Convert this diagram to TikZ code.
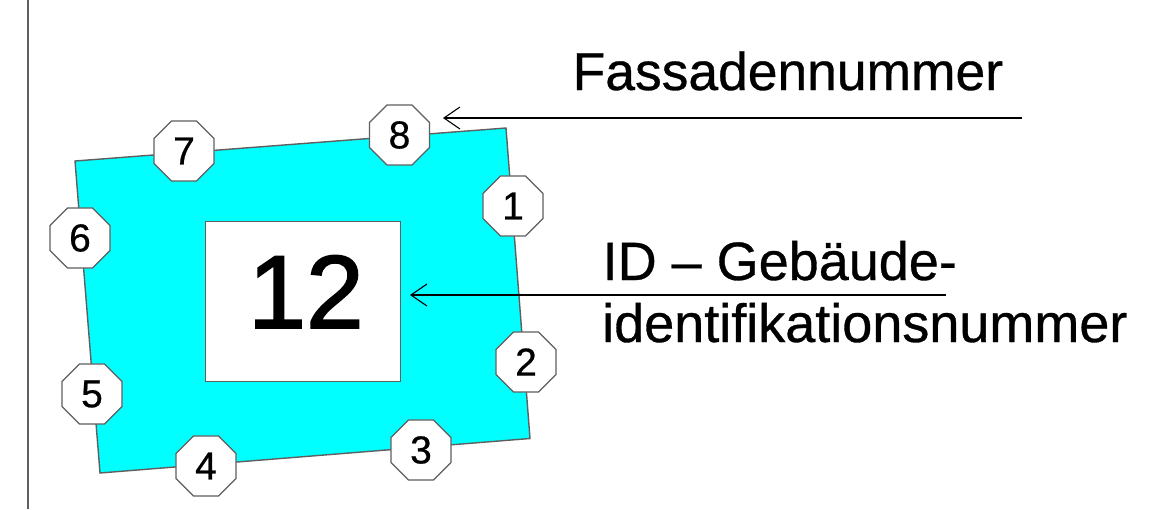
\documentclass[tikz,border=0pt]{standalone}
\usepackage{fontspec}
\setmainfont{Liberation Sans}
\newfontfamily\heavy[FakeBold=0.6]{Liberation Sans}
\newfontfamily\heavier[FakeBold=1.6]{Liberation Sans}
\usetikzlibrary{shapes.geometric,arrows.meta}
\definecolor{edgegrey}{RGB}{95,95,95}
\definecolor{aquafill}{RGB}{0,255,255}
\tikzset{
  facade/.style={regular polygon,regular polygon sides=8,minimum size=65pt,inner sep=0pt,
    draw=edgegrey,line width=1.3pt,fill=white,font=\heavy\fontsize{39}{39}\selectfont,text=black},
  idbox/.style={draw=edgegrey,line width=1pt,fill=white,minimum width=195pt,minimum height=160pt,inner sep=0pt},
  idnum/.style={anchor=base,inner sep=0pt,text=black,font=\heavier\fontsize{104}{104}\selectfont},
  labelA/.style={anchor=base west,inner sep=0pt,text=black,font=\heavy\fontsize{53.4}{53.4}\selectfont},
  labelB/.style={anchor=base west,inner sep=0pt,text=black,font=\heavy\fontsize{54}{54}\selectfont},
  pointer/.style={draw=black,line width=1.3pt,-{Straight Barb[length=16pt,width=22pt,line width=1.1pt]}}
}
\begin{document}
\begin{tikzpicture}[x=1pt,y=-1pt]
\useasboundingbox (0,0) rectangle (1170,509);
\fill[white] (0,0) rectangle (1170,509);
\draw[edgegrey,line width=1.3pt] (28,0) -- (28,509);
\draw[edgegrey,line width=1.4pt,fill=aquafill] (75,161) -- (506,128) -- (530,438.5) -- (100,473) -- cycle;
\node[idbox] (id) at (302.5,301) {};
\node[idnum] (idtext) at (306,328) {12};
\node[facade] (f1) at (513,206) {1};
\node[facade] (f2) at (526,362) {2};
\node[facade] (f3) at (421,450) {3};
\node[facade] (f4) at (206,466) {4};
\node[facade] (f5) at (92,394) {5};
\node[facade] (f6) at (80,238) {6};
\node[facade] (f7) at (184,151) {7};
\node[facade] (f8) at (399.5,135) {8};
\node[labelA] (fn) at (572.5,90) {Fassadennummer};
\node[labelB] (id1) at (602.5,280) {ID – Gebäude-};
\node[labelB] (id2) at (602,342) {identifikationsnummer};
\coordinate (a1s) at (1022,118);
\coordinate (a1e) at (443,118);
\coordinate (a2s) at (946,295);
\coordinate (a2e) at (410,295);
\draw[pointer] (a1s) -- (a1e);
\draw[pointer] (a2s) -- (a2e);
\end{tikzpicture}
\end{document}
